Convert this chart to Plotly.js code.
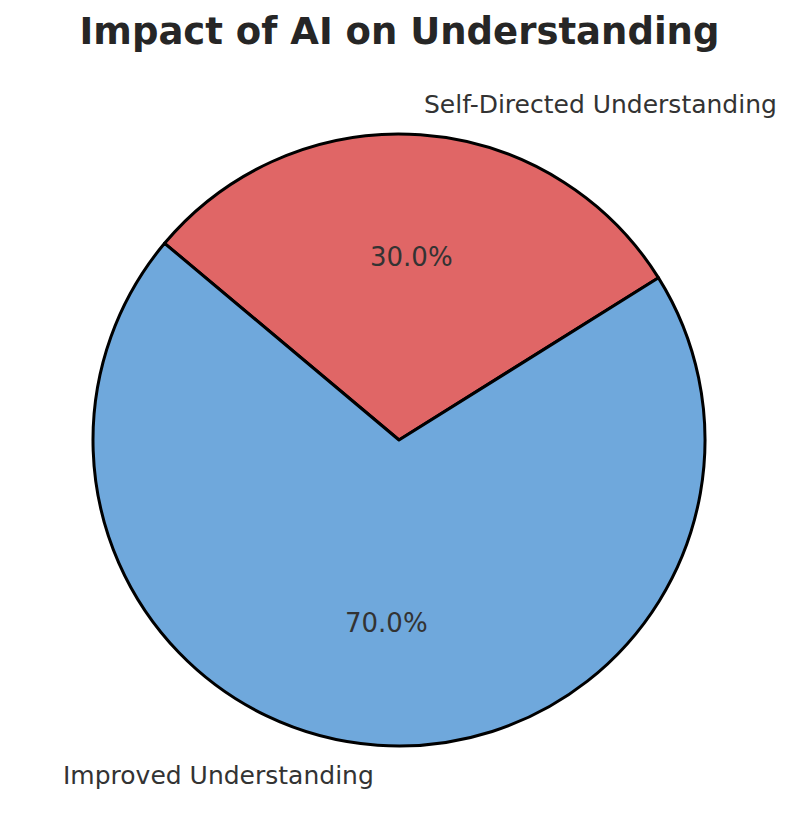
<!DOCTYPE html>
<html>
<head>
<meta charset="utf-8">
<script src="https://cdn.plot.ly/plotly-3.0.1.min.js"></script>
<style>html,body{margin:0;padding:0;background:#fff;}#chart{width:799px;height:840px;}</style>
</head>
<body>
<div id="chart"></div>
<script>
const categories = ["Improved Understanding", "Self-Directed Understanding"];
const values = [70, 30];
const colors = ["#6FA8DC", "#E06666"];
const startAngle = 140; // degrees, counterclockwise from 3 o'clock

const W = 799, H = 840;
const cx = 399, cy = 440, R = 306;

const total = values.reduce((a, b) => a + b, 0);
const annotations = [];
let acc = startAngle;
values.forEach((v, i) => {
  const span = v / total * 360;
  const mid = (acc + span / 2) * Math.PI / 180;
  acc += span;
  const px = cx + 0.6 * R * Math.cos(mid), py = cy - 0.6 * R * Math.sin(mid);
  annotations.push({
    x: px / W, y: 1 - py / H, xref: 'paper', yref: 'paper',
    text: (v / total * 100).toFixed(1) + '%', showarrow: false,
    xanchor: 'center', yanchor: 'middle',
    font: {family: 'DejaVu Sans', size: 26, color: '#333333'}
  });
  const lx = cx + 1.1 * R * Math.cos(mid), ly = cy - 1.1 * R * Math.sin(mid);
  annotations.push({
    x: lx / W, y: 1 - ly / H, xref: 'paper', yref: 'paper',
    text: categories[i], showarrow: false,
    xanchor: Math.cos(mid) >= 0 ? 'left' : 'right', yanchor: 'middle',
    font: {family: 'DejaVu Sans', size: 25, color: '#333333'}
  });
});

// Counterclockwise order from startAngle == clockwise order (reversed) from startAngle
const trace = {
  type: 'pie',
  labels: categories.slice().reverse(),
  values: values.slice().reverse(),
  sort: false,
  direction: 'clockwise',
  rotation: 90 - startAngle,
  marker: {colors: colors.slice().reverse(), line: {color: '#000000', width: 3}},
  textinfo: 'none',
  hoverinfo: 'label+percent',
  showlegend: false,
  domain: {x: [(cx - R) / W, (cx + R) / W], y: [1 - (cy + R) / H, 1 - (cy - R) / H]}
};

const layout = {
  width: W, height: H,
  margin: {l: 0, r: 0, t: 0, b: 0},
  paper_bgcolor: '#ffffff',
  showlegend: false,
  title: {
    text: '<b>Impact of AI on Understanding</b>',
    font: {family: 'DejaVu Sans', size: 37, color: '#262626'},
    x: 0.5, xref: 'paper', xanchor: 'center',
    y: 1 - 31 / H, yref: 'container', yanchor: 'middle'
  },
  annotations: annotations
};

Plotly.newPlot('chart', [trace], layout, {staticPlot: true});
</script>
</body>
</html>
